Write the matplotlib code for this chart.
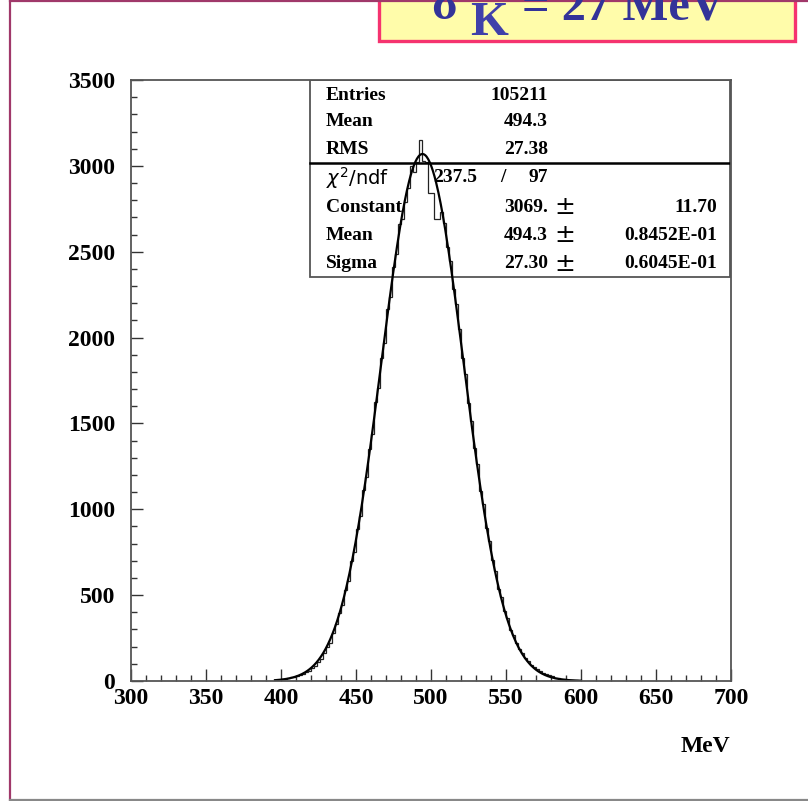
import numpy as np
import matplotlib
matplotlib.use("Agg")
import matplotlib.pyplot as plt
from matplotlib.lines import Line2D
from matplotlib.patches import Rectangle
from matplotlib.ticker import MultipleLocator

# kaon energy histogram, 2 MeV bins from 400 to 600 MeV
bin_edges = np.arange(400, 602, 2)
counts = [
    12, 14, 16, 21, 22, 30, 33, 41, 52, 60,
    74, 88, 112, 128, 161, 197, 221, 281, 330, 398,
    441, 532, 584, 697, 751, 884, 961, 1113, 1190, 1352,
    1441, 1622, 1708, 1879, 1971, 2168, 2236, 2412, 2489, 2661,
    2688, 2790, 2872, 2998, 2965, 3020, 3152, 3030, 3020, 2840,
    2840, 2690, 2690, 2731, 2667, 2529, 2446, 2281, 2193, 2049,
    1881, 1787, 1619, 1512, 1355, 1262, 1109, 1029, 889, 818,
    702, 640, 538, 489, 405, 366, 297, 268, 224, 189,
    161, 134, 115, 96, 81, 67, 57, 48, 40, 33,
    27, 20, 16, 12, 9, 7, 5, 4, 3, 2,
]

# gaussian fit result
fit_const, fit_const_err = 3069., 11.70
fit_mean, fit_mean_err = 494.3, 0.8452e-01
fit_sigma, fit_sigma_err = 27.30, 0.6045e-01
chi2, ndf = 237.5, 97

n_entries = 105211
h_mean = 494.3
h_rms = 27.38

W, H = 808, 801
SERIF = "Liberation Serif"


def px(x, y):
    return x / W, 1 - y / H


fig = plt.figure(figsize=(W / 100, H / 100), dpi=100)

# page frame
fig.add_artist(Line2D([px(10, 0)[0], px(10, 0)[0]], [0, 1], color="#a0386a", lw=1.6))
fig.add_artist(Line2D([px(10, 0)[0], 1], [px(0, 0.5)[1]] * 2, color="#a0386a", lw=1.6))
fig.add_artist(Line2D([px(10, 0)[0], 1], [px(0, 799.5)[1]] * 2, color="#888888", lw=1.6))

# title box
bx0, by0 = px(379, 40.5)
bx1, by1 = px(795, -10)
fig.add_artist(Rectangle((bx0, by0), bx1 - bx0, by1 - by0, transform=fig.transFigure,
                         facecolor="#fffcaa", edgecolor="#f5336f", lw=2.4, clip_on=False))
tcol = "#333399"
fig.text(*px(431, 19), "\u03c3", fontsize=35, fontweight="bold", family=SERIF,
         color=tcol, va="baseline")
fig.text(*px(470, 35), "K", fontsize=35, fontweight="bold", family=SERIF,
         color="#4040aa", va="baseline")
fig.text(*px(522, 19), "= 27 MeV", fontsize=35, fontweight="bold", family=SERIF,
         color=tcol, va="baseline")

ax = fig.add_axes([131 / W, 1 - 681 / H, 600 / W, 601 / H])
ax.stairs(counts, bin_edges, color="#222222", lw=0.9)

xf = np.linspace(396, 600, 400)
ax.plot(xf, fit_const * np.exp(-0.5 * ((xf - fit_mean) / fit_sigma) ** 2),
        color="black", lw=1.6)

ax.set_xlim(300, 700)
ax.set_ylim(0, 3500)
ax.xaxis.set_major_locator(MultipleLocator(50))
ax.xaxis.set_minor_locator(MultipleLocator(10))
ax.yaxis.set_major_locator(MultipleLocator(500))
ax.yaxis.set_minor_locator(MultipleLocator(100))
ax.tick_params(which="both", direction="in", top=False, right=False, width=1, color="#333333")
ax.tick_params(which="major", length=8.6)
ax.tick_params(which="minor", length=4.3)
ax.tick_params(axis="x", pad=5)
ax.tick_params(axis="y", pad=11.5)
for lab in ax.get_xticklabels() + ax.get_yticklabels():
    lab.set_fontfamily(SERIF)
    lab.set_fontweight("bold")
    lab.set_fontsize(17)
for sp in ax.spines.values():
    sp.set_color("#555555")
    sp.set_linewidth(1.3)

fig.text(*px(730, 752), "MeV", fontsize=17, fontweight="bold", family=SERIF,
         ha="right", va="baseline")

# statistics box
def afx(x):
    return (x - 131) / 600


def afy(y):
    return (681 - y) / 601


ax.add_patch(Rectangle((afx(310), afy(277)), afx(730) - afx(310), afy(80) - afy(277),
                       transform=ax.transAxes, fill=False, edgecolor="#555555", lw=1.3))
ax.add_line(Line2D([afx(310), 1], [afy(163)] * 2, transform=ax.transAxes,
                   color="black", lw=1.8))

sfont = dict(fontsize=14, fontweight="bold", family=SERIF, transform=ax.transAxes,
             va="center")
rows = [
    ("Entries", f"{n_entries}", None, 95),
    ("Mean", f"{h_mean:.1f}", None, 122),
    ("RMS", f"{h_rms:.2f}", None, 149),
]
for name, val, err, y in rows:
    ax.text(afx(326), afy(y), name, ha="left", **sfont)
    ax.text(afx(548), afy(y), val, ha="right", **sfont)

ax.text(afx(326), afy(178), r"$\chi^2$/ndf", fontsize=14, transform=ax.transAxes,
        va="center", ha="left")
ax.text(afx(433), afy(178), f"{chi2:.1f}", ha="left", **sfont)
ax.text(afx(503), afy(178), "/", ha="center", **sfont)
ax.text(afx(548), afy(178), f"{ndf}", ha="right", **sfont)

fit_rows = [
    ("Constant", f"{fit_const:.0f}.", f"{fit_const_err:.2f}", 207),
    ("Mean", f"{fit_mean:.1f}", "0.8452E-01", 235),
    ("Sigma", f"{fit_sigma:.2f}", "0.6045E-01", 264),
]
for name, val, err, y in fit_rows:
    ax.text(afx(326), afy(y), name, ha="left", **sfont)
    ax.text(afx(548), afy(y), val, ha="right", **sfont)
    ax.text(afx(554), afy(y), "\u00b1", fontsize=18, family="DejaVu Sans",
            transform=ax.transAxes, va="center", ha="left")
    ax.text(afx(717), afy(y), err, ha="right", **sfont)

fig.savefig("out.png", dpi=100)
